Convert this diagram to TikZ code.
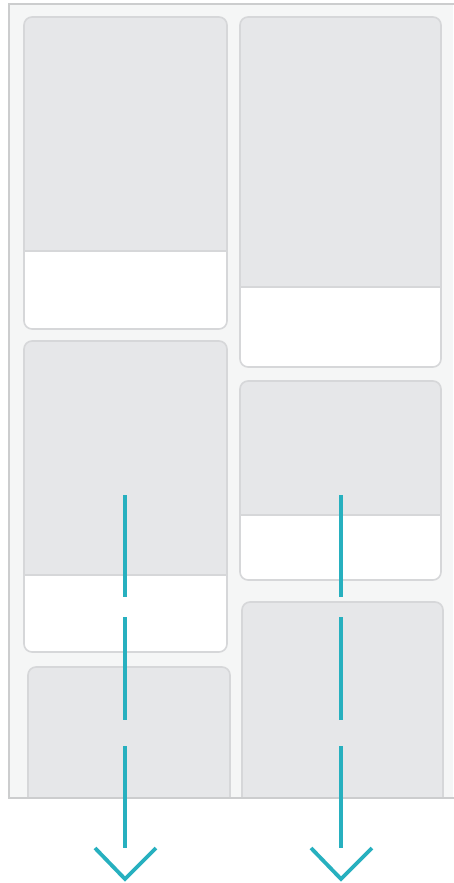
\documentclass[tikz,border=0pt]{standalone}
\usetikzlibrary{calc}
\definecolor{framefill}{HTML}{F5F6F6}
\definecolor{frameline}{HTML}{CCCDCE}
\definecolor{cardgrey}{HTML}{E6E7E9}
\definecolor{cardline}{HTML}{D6D7D9}
\definecolor{teal}{HTML}{27B0BF}
\tikzset{
  cardborder/.style={draw=cardline, line width=1.6pt, rounded corners=8pt},
  flowline/.style={draw=teal, line width=3.6pt},
  chevron/.style={draw=teal, line width=3.8pt, line join=miter}
}
% #1 left, #2 top, #3 right, #4 bottom, #5 split (grey above)
\newcommand{\mycard}[5]{%
  \begin{scope}
    \clip[rounded corners=8pt] (#1,#2) rectangle (#3,#4);
    \fill[white] (#1,#2) rectangle (#3,#4);
    \fill[cardgrey] (#1,#2) rectangle (#3,#5);
    \draw[cardline, line width=1.2pt] (#1,#5) -- (#3,#5);
  \end{scope}
  \draw[cardborder] (#1,#2) rectangle (#3,#4);
}
\begin{document}
\begin{tikzpicture}[x=1pt,y=-1pt]
\useasboundingbox (0,0) rectangle (453,883);
\fill[white] (0,0) rectangle (453,883);
% frame
\fill[framefill] (9,4) rectangle (453,798);
\begin{scope}
  \clip (9,4) rectangle (453,798);
  \mycard{24}{17}{227}{329}{251}
  \mycard{24}{341}{227}{652}{575}
  \mycard{28}{667}{230}{840}{840}
  \mycard{240}{17}{441}{367}{287}
  \mycard{240}{381}{441}{580}{515}
  \mycard{242}{602}{443}{840}{840}
\end{scope}
\draw[frameline, line width=2pt] (460,4) -- (9,4) -- (9,798) -- (460,798);
% left flow
\coordinate (la1) at (125,495); \coordinate (lb1) at (125,597);
\coordinate (la2) at (125,617); \coordinate (lb2) at (125,720);
\coordinate (la3) at (125,746); \coordinate (lb3) at (125,848);
\coordinate (lcl) at (95,848); \coordinate (lct) at (125,879); \coordinate (lcr) at (156,848);
\draw[flowline] (la1) -- (lb1);
\draw[flowline] (la2) -- (lb2);
\draw[flowline] (la3) -- (lb3);
\draw[chevron] (lcl) -- (lct) -- (lcr);
% right flow
\coordinate (ra1) at (341,495); \coordinate (rb1) at (341,597);
\coordinate (ra2) at (341,617); \coordinate (rb2) at (341,720);
\coordinate (ra3) at (341,746); \coordinate (rb3) at (341,848);
\coordinate (rcl) at (311,848); \coordinate (rct) at (341,879); \coordinate (rcr) at (372,848);
\draw[flowline] (ra1) -- (rb1);
\draw[flowline] (ra2) -- (rb2);
\draw[flowline] (ra3) -- (rb3);
\draw[chevron] (rcl) -- (rct) -- (rcr);
\end{tikzpicture}
\end{document}
